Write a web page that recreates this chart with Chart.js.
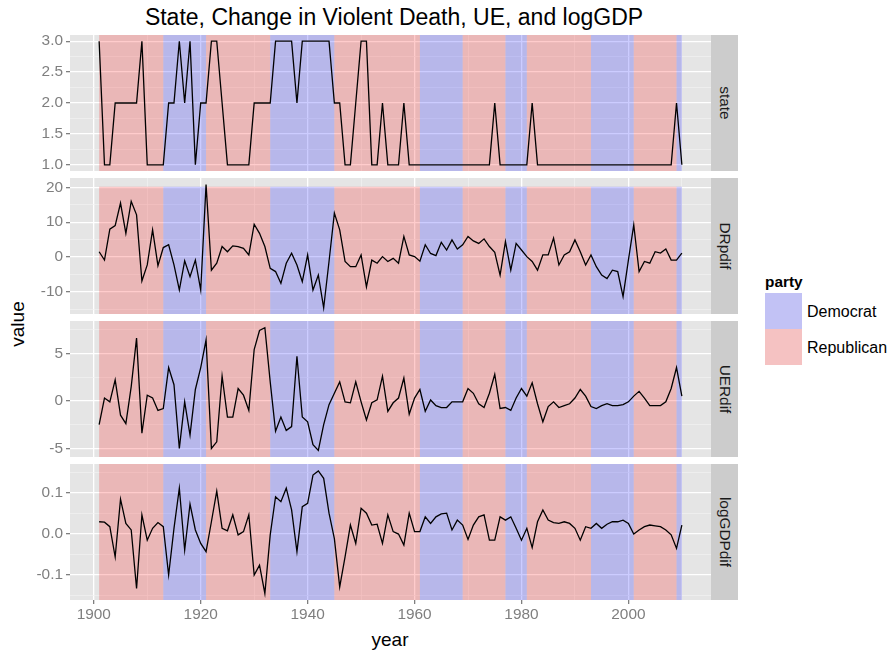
<!DOCTYPE html>
<html>
<head>
<meta charset="utf-8">
<script src="https://cdn.jsdelivr.net/npm/chart.js@4"></script>
<style>
  body { margin: 0; background: #fff; font-family: "Liberation Sans", Arial, sans-serif; }
  #wrap { position: relative; width: 894px; height: 651px; overflow: hidden; }
  canvas { position: absolute; left: 0; }
  .txt { position: absolute; white-space: nowrap; }
  .strip { position: absolute; left: 711px; width: 27px; height: 136px; background: #CCCCCC; }
  .strip span { position: absolute; left: 50%; top: 50%; transform: translate(-50%, -50%) rotate(90deg); font-size: 15.4px; color: #1A1A1A; white-space: nowrap; }
  .key { position: absolute; left: 765px; width: 37px; height: 36px; }
</style>
</head>
<body>
<div id="wrap">
  <div class="txt" style="left:394px; top:17px; transform:translate(-50%,-50%); font-size:23px; color:#000;">State, Change in Violent Death, UE, and logGDP</div>
  <div class="txt" style="left:18px; top:324px; transform:translate(-50%,-50%) rotate(-90deg); font-size:19px; color:#000;">value</div>
  <div class="txt" style="left:390px; top:640px; transform:translate(-50%,-50%); font-size:19px; color:#000;">year</div>

  <canvas id="c0" width="711" height="152" style="top:27px"></canvas>
  <canvas id="c1" width="711" height="152" style="top:170px"></canvas>
  <canvas id="c2" width="711" height="152" style="top:313px"></canvas>
  <canvas id="c3" width="711" height="174" style="top:456px"></canvas>

  <div class="strip" style="top:35px"><span>state</span></div>
  <div class="strip" style="top:178px"><span>DRpdif</span></div>
  <div class="strip" style="top:321px"><span>UERdif</span></div>
  <div class="strip" style="top:464px"><span>logGDPdif</span></div>

  <div class="txt" style="left:765px; top:282px; transform:translateY(-50%); font-size:15.4px; font-weight:bold; color:#000;">party</div>
  <div class="key" style="top:293px; background:#C2C2F5"></div>
  <div class="key" style="top:329px; background:#F5C2C2"></div>
  <div class="txt" style="left:807px; top:312px; transform:translateY(-50%); font-size:16px; color:#000;">Democrat</div>
  <div class="txt" style="left:807px; top:348px; transform:translateY(-50%); font-size:16px; color:#000;">Republican</div>
</div>
<script>
// years 1901..2010
const years = [];
for (let y = 1901; y <= 2010; y++) years.push(y);

const state = [
  3,1,1,2,2,2,2,2,3,1,
  1,1,1,2,2,3,2,3,1,2,
  2,3,3,2,1,1,1,1,1,2,
  2,2,2,3,3,3,3,2,3,3,
  3,3,3,3,2,2,1,1,2,3,
  3,1,1,2,1,1,1,2,1,1,
  1,1,1,1,1,1,1,1,1,1,
  1,1,1,1,2,1,1,1,1,1,
  1,2,1,1,1,1,1,1,1,1,
  1,1,1,1,1,1,1,1,1,1,
  1,1,1,1,1,1,1,1,2,1
];
const DRpdif = [
  1.5,-0.9,8.0,9.0,15.5,6.8,16.0,12.1,-6.9,-2.3,
  7.8,-2.5,2.7,3.5,-2.3,-9.5,-1.1,-5.7,-0.9,-9.5,
  20.8,-3.8,-1.8,3.0,1.5,3.2,3.0,2.5,0.6,9.4,
  6.8,3.0,-3.3,-4.2,-7.6,-1.8,1.1,-2.3,-7.1,0.6,
  -9.5,-5.2,-14.6,-1.3,12.6,7.8,-1.3,-2.8,-2.8,0.6,
  -8.6,-0.9,-1.8,0.1,-1.3,-0.4,-1.8,5.9,0.6,0.1,
  -1.2,3.5,1.0,0.4,4.2,2.0,4.9,2.3,3.5,5.9,
  4.6,3.9,5.2,3.0,1.3,-5.2,4.4,-3.8,3.9,2.0,
  0.1,-1.3,-3.8,0.6,0.6,5.4,-2.3,0.6,1.5,4.9,
  1.5,-2.3,0.6,-2.8,-5.2,-6.2,-3.8,-4.2,-11.4,-0.9,
  9.2,-4.2,-1.3,-1.8,1.5,1.1,2.3,-0.9,-0.9,1.1
];
const UERdif = [
  -2.5,0.3,-0.1,2.2,-1.5,-2.4,1.5,6.6,-3.4,0.6,
  0.3,-1.0,-0.8,3.5,1.7,-5.0,-0.1,-3.6,1.2,3.5,
  6.4,-5.0,-4.3,2.6,-1.7,-1.7,1.3,0.6,-1.0,5.4,
  7.4,7.7,2.0,-3.2,-1.7,-3.1,-2.7,4.7,-1.7,-2.2,
  -4.6,-5.2,-2.5,-0.4,0.8,2.0,-0.1,-0.2,2.0,-0.1,
  -2.0,-0.2,0.1,2.6,-1.1,-0.2,0.3,2.4,-1.4,0.3,
  1.2,-1.1,0.1,-0.5,-0.7,-0.7,-0.1,-0.1,-0.1,1.3,
  0.8,-0.3,-0.7,0.8,2.8,-0.8,-0.7,-1.0,0.3,1.3,
  0.5,1.9,-0.3,-2.2,-0.6,-0.1,-0.7,-0.5,-0.3,0.3,
  1.2,0.5,-0.6,-0.8,-0.5,-0.3,-0.5,-0.5,-0.4,-0.1,
  0.5,1.0,0.3,-0.5,-0.5,-0.5,-0.1,1.3,3.5,0.5
];
const logGDPdif = [
  0.030,0.029,0.018,-0.056,0.085,0.026,0.010,-0.133,0.047,-0.015,
  0.014,0.028,0.018,-0.100,0.014,0.112,-0.039,0.073,0.010,-0.023,
  -0.043,0.030,0.105,0.014,0.008,0.047,-0.002,0.006,0.047,-0.100,
  -0.076,-0.145,-0.002,0.091,0.079,0.112,0.059,-0.043,0.067,0.075,
  0.144,0.154,0.136,0.051,-0.011,-0.129,-0.056,0.022,-0.023,0.063,
  0.051,0.022,0.024,-0.023,0.047,0.006,0.000,-0.027,0.051,0.006,
  0.006,0.042,0.026,0.042,0.049,0.051,0.010,0.034,0.022,-0.013,
  0.022,0.042,0.047,-0.015,-0.015,0.042,0.034,0.042,0.014,-0.015,
  0.014,-0.033,0.030,0.059,0.034,0.028,0.026,0.030,0.026,0.014,
  -0.015,0.018,0.014,0.026,0.014,0.024,0.030,0.030,0.034,0.026,
  0.000,0.010,0.018,0.022,0.020,0.018,0.010,-0.002,-0.035,0.022
];

// party periods
const partyStart = [1901, 1913, 1921, 1933, 1945, 1961, 1969, 1977, 1981, 1993, 2001, 2009];
const partyEnd   = [1913, 1921, 1933, 1945, 1961, 1969, 1977, 1981, 1993, 2001, 2009, 2010];
const partyName  = ['Republican','Democrat','Republican','Democrat','Republican','Democrat','Republican','Democrat','Republican','Democrat','Republican','Democrat'];
const partyFill  = { Democrat: 'rgba(0,0,255,0.2)', Republican: 'rgba(255,0,0,0.2)' };

// ticks
const xMajor = [1900, 1920, 1940, 1960, 1980, 2000];
const xMinor = [1910, 1930, 1950, 1970, 1990, 2010];
const stateTicks = [1, 1.5, 2, 2.5, 3];
const stateMinor = [1.25, 1.75, 2.25, 2.75];
const drTicks = [-10, 0, 10, 20];
const drMinor = [-15, -5, 5, 15];
const ueTicks = [-5, 0, 5];
const ueMinor = [-2.5, 2.5, 7.5];
const gdpTicks = [-0.1, 0, 0.1];
const gdpMinor = [-0.15, -0.05, 0.05, 0.15];

Chart.defaults.font.family = '"Liberation Sans", Arial, sans-serif';
Chart.defaults.font.size = 15.4;
Chart.defaults.color = '#7F7F7F';

const panelPlugin = {
  id: 'panel',
  beforeDraw(chart) {
    const a = chart.chartArea, ctx = chart.ctx;
    ctx.save();
    ctx.fillStyle = '#E5E5E5';
    ctx.fillRect(a.left, a.top, a.right - a.left, a.bottom - a.top);
    ctx.restore();
  },
  beforeDatasetsDraw(chart, args, opts) {
    const a = chart.chartArea, ctx = chart.ctx;
    const xs = chart.scales.x, ys = chart.scales.y;
    const yTop = opts.rectTop == null ? a.top : ys.getPixelForValue(opts.rectTop);
    ctx.save();
    ctx.beginPath();
    ctx.rect(a.left, a.top, a.right - a.left, a.bottom - a.top);
    ctx.clip();
    partyStart.forEach((s, i) => {
      const x0 = xs.getPixelForValue(s), x1 = xs.getPixelForValue(partyEnd[i]);
      ctx.fillStyle = partyFill[partyName[i]];
      ctx.fillRect(x0, yTop, x1 - x0, a.bottom - yTop);
    });
    ctx.restore();
  }
};

function tickList(major, minor) {
  return major.map(v => ({ value: v })).concat(minor.map(v => ({ value: v, minor: true })));
}
const gridColor = c => (c.tick && c.tick.minor) ? '#F2F2F2' : '#FFFFFF';
const gridWidth = c => (c.tick && c.tick.minor) ? 0.7 : 1.3;
const tickColor = c => (c.tick && c.tick.minor) ? 'rgba(0,0,0,0)' : '#7F7F7F';

function makePanel(id, vals, ymin, ymax, major, minor, fmt, rectTop, showX) {
  new Chart(document.getElementById(id), {
    type: 'line',
    data: {
      datasets: [{
        data: years.map((yr, i) => ({ x: yr, y: vals[i] })),
        borderColor: '#000000',
        borderWidth: 1.3,
        pointRadius: 0,
        tension: 0
      }]
    },
    options: {
      responsive: false,
      animation: false,
      events: [],
      devicePixelRatio: 1,
      layout: { padding: { top: 8, bottom: showX ? 0 : 8, left: 0, right: 0 } },
      plugins: { legend: { display: false }, tooltip: { enabled: false }, panel: { rectTop: rectTop } },
      scales: {
        x: {
          type: 'linear', min: 1895.55, max: 2015.45,
          afterBuildTicks: s => { s.ticks = tickList(xMajor, xMinor); },
          afterFit: s => { s.height = showX ? 30 : 0; s.paddingLeft = 0; s.paddingRight = 0; },
          border: { display: false },
          grid: { color: gridColor, lineWidth: gridWidth, tickColor: tickColor, tickLength: 4, drawTicks: showX },
          ticks: {
            display: showX, autoSkip: false, maxRotation: 0, padding: 2, color: '#7F7F7F',
            callback: (v, i, t) => t[i].minor ? '' : String(v)
          }
        },
        y: {
          type: 'linear', min: ymin, max: ymax,
          afterBuildTicks: s => { s.ticks = tickList(major, minor); },
          afterFit: s => { s.width = 70; s.paddingTop = 0; s.paddingBottom = 0; },
          border: { display: false },
          grid: { color: gridColor, lineWidth: gridWidth, tickColor: tickColor, tickLength: 4 },
          ticks: {
            autoSkip: false, padding: 3, color: '#7F7F7F',
            callback: (v, i, t) => t[i].minor ? '' : fmt(v)
          }
        }
      }
    },
    plugins: [panelPlugin]
  });
}

const f1 = v => v.toFixed(1);
const f0 = v => String(Math.round(v));
makePanel('c0', state, 0.9, 3.1, stateTicks, stateMinor, f1, null, false);
makePanel('c1', DRpdif, -16.4, 22.7, drTicks, drMinor, f0, 20.2, false);
makePanel('c2', UERdif, -5.9, 8.4, ueTicks, ueMinor, f0, null, false);
makePanel('c3', logGDPdif, -0.161, 0.171, gdpTicks, gdpMinor, f1, null, true);
</script>
</body>
</html>
